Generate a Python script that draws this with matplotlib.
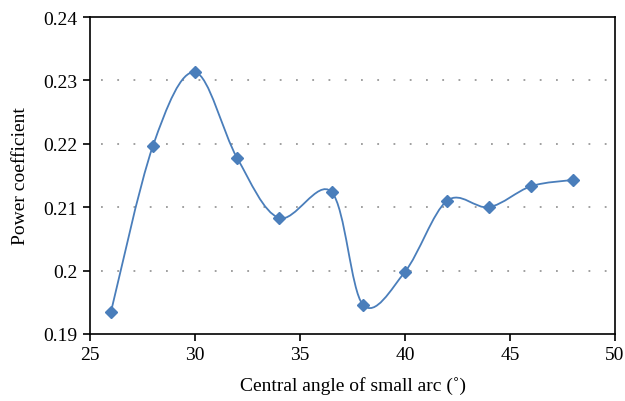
import numpy as np
import matplotlib
matplotlib.use('Agg')
import matplotlib.pyplot as plt
from matplotlib.path import Path
from matplotlib.patches import PathPatch

plt.rcParams['font.family'] = ['Liberation Serif', 'DejaVu Serif']

angle = [26, 28, 30, 32, 34, 36.5, 38, 40, 42, 44, 46, 48]
power = [0.1935, 0.2197, 0.2313, 0.2178, 0.2083, 0.2124, 0.1946, 0.1998, 0.2110, 0.2100, 0.2133, 0.2143]

blue = '#4a7ebb'

def smooth_path(x, y, t=1/6):
    # Excel-like smoothed line as cubic bezier segments
    pts = np.column_stack([x, y])
    n = len(pts)
    verts = [pts[0]]
    codes = [Path.MOVETO]
    for i in range(n - 1):
        p0 = pts[i - 1] if i > 0 else pts[i]
        p1 = pts[i]
        p2 = pts[i + 1]
        p3 = pts[i + 2] if i + 2 < n else pts[i + 1]
        c1 = p1 + (p2 - p0) * t
        c2 = p2 - (p3 - p1) * t
        verts += [c1, c2, p2]
        codes += [Path.CURVE4] * 3
    return Path(verts, codes)

fig = plt.figure(figsize=(6.25, 4.02), dpi=100)
ax = fig.add_axes([0.144, 0.167, 0.840, 0.788])

ax.add_patch(PathPatch(smooth_path(angle, power), fill=False, edgecolor=blue, lw=1.3))
ax.plot(angle, power, linestyle='none', marker='D', markersize=6.5, color=blue)

ax.set_xlim(25, 50)
ax.set_ylim(0.19, 0.24)
ax.set_xticks([25, 30, 35, 40, 45, 50])
ax.set_yticks([0.19, 0.2, 0.21, 0.22, 0.23, 0.24])
ax.set_yticklabels(['0.19', '0.2', '0.21', '0.22', '0.23', '0.24'])
ax.tick_params(direction='out', length=5, width=1.2, labelsize=14, pad=4)
for s in ax.spines.values():
    s.set_linewidth(1.2)

for yv in [0.2, 0.21, 0.22, 0.23]:
    ax.axhline(yv, xmin=0.02, xmax=0.99, color='#999999', lw=1.3, linestyle=(0, (1, 8)), zorder=0)

ax.set_xlabel('Central angle of small arc (˚)', fontsize=14, labelpad=9)
ax.set_ylabel('Power coefficient', fontsize=14, labelpad=10)

fig.savefig('out.png', dpi=100)
